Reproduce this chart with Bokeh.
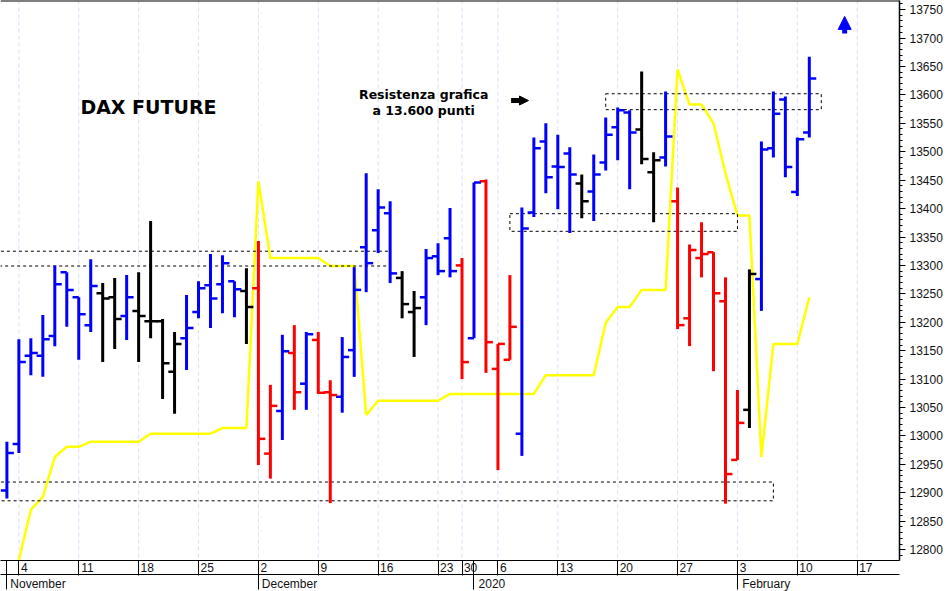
from bokeh.plotting import figure
from bokeh.embed import file_html
from bokeh.resources import INLINE
from bokeh.core.properties import value
from bokeh.models import (Range1d, LinearAxis, FixedTicker, Span, Arrow, NormalHead,
                          ColumnDataSource)

# trading-day index of each bar is simply its position in these lists
opens = [12904,12986,13141,13141,13176,13288,13244,13195,13251,13244,13211,13220,13202,13202,13113,13172,13218,13265,13267,13272,13255,
         13260,12969,13044,13146,13092,13169,13077,13069,13151,13332,13362,13392,13278,13218,13244,13316,13348,13300,13172,13448,13118,13134,
         13004,13393,13518,13474,13497,13444,13430,13481,13543,13569,13539,13464,13490,13413,13207,13313,13323,13237,12958,13046,13276,13506,13592,13429,13534]
highs = [12990,13170,13172,13213,13300,13288,13244,13311,13269,13278,13283,13288,13378,13206,13183,13248,13272,13320,13318,13272,13295,
         13343,13090,13178,13195,13183,13183,13098,13174,13297,13462,13434,13413,13290,13255,13329,13339,13401,13313,13446,13451,13162,13283,
         13402,13525,13550,13530,13508,13460,13495,13560,13578,13573,13641,13499,13606,13437,13337,13376,13323,13279,13081,13293,13518,13606,13597,13525,13667]
lows = [12890,12970,13107,13104,13158,13192,13134,13183,13130,13153,13169,13130,13172,13065,13039,13116,13207,13190,13216,13209,13162,
        12949,12925,12993,13046,13046,13074,12882,13041,13104,13253,13322,13269,13207,13139,13195,13283,13279,13100,13172,13111,12940,13134,
        12965,13385,13427,13399,13357,13383,13378,13467,13485,13434,13478,13376,13474,13188,13158,13279,13114,12881,12958,13014,13220,13490,13455,13422,13525]
closes = [12970,13130,13146,13170,13267,13257,13214,13264,13242,13206,13244,13211,13202,13128,13162,13190,13260,13242,13304,13258,13227,
          12995,13053,13149,13077,13179,13076,13072,13139,13257,13304,13402,13286,13232,13225,13313,13290,13290,13130,13446,13165,13162,13192,
          13365,13506,13455,13473,13460,13413,13460,13530,13573,13534,13487,13485,13527,13195,13327,13320,13251,12933,13023,13285,13504,13567,13473,13522,13629]
bar_colors = (["#0000ff"]*8 + ["#000000"]*2 + ["#0000ff"] + ["#000000"]*4 + ["#0000ff"]*5 + ["#000000"]
              + ["#ff0000"]*2 + ["#0000ff","#ff0000","#0000ff","#ff0000","#ff0000"] + ["#0000ff"]*5 + ["#000000"]*2 + ["#0000ff"]*3
              + ["#ff0000","#0000ff"] + ["#ff0000"]*3 + ["#0000ff"]*5 + ["#000000"] + ["#0000ff"]*4 + ["#000000"]*2 + ["#0000ff"]
              + ["#ff0000"]*6 + ["#000000"] + ["#0000ff"]*5)

line_x = list(range(1, 68))
line_y = [12782,12870,12893,12963,12981,12981,12990,12990,12990,12990,12990,13004,13004,13004,13004,13004,13004,13014,13014,13014,
          13448,13313,13313,13313,13313,13313,13299,13299,13299,13037,13062,13062,13062,13062,13062,13062,13074,13074,13074,13074,
          13074,13074,13074,13074,13107,13107,13107,13107,13107,13199,13227,13227,13257,13257,13257,13645,13583,13583,13550,13462,
          13388,13388,12963,13162,13162,13162,13244]

# dashed boxes: left, right, bottom, top
box_left = [-1, 42, 50, -1]
box_right = [32, 61, 68, 64]
box_bottom = [13299, 13360, 13574, 12886]
box_top = [13325, 13391, 13602, 12919]

week_ticks = [1, 6, 11, 16, 21, 26, 31, 36, 38, 41, 46, 51, 56, 61, 66, 71]
week_labels = ["4", "11", "18", "25", "2", "9", "16", "23", "30", "6", "13", "20", "27", "3", "10", "17"]
month_ticks = [0, 21, 39, 61]
month_labels = ["November", "December", "2020", "February"]
month_label_shift = [2.6, 2.6, 1.5, 2.4]

price_ticks = list(range(12800, 13751, 50))
price_minor = list(range(12790, 13761, 10))

p = figure(width=945, height=591, frame_width=899, frame_height=560,
           output_backend="svg", toolbar_location=None,
           x_range=Range1d(-0.534, 74.53), y_range=Range1d(12781, 13766),
           min_border_left=0, min_border_top=0, min_border_right=0, min_border_bottom=0,
           background_fill_color="white", border_fill_color="white", outline_line_color=None,
           x_axis_location=None, y_axis_location=None)

# grid
p.xgrid.visible = False
p.ygrid.visible = False
for t in week_ticks:
    p.add_layout(Span(location=t, dimension="height", line_color="#dcdcf8", line_width=1, line_dash="4 3", level="underlay"))
p.add_layout(Span(location=13766, dimension="width", line_color="black", line_width=2))

# price axis
yax = LinearAxis(ticker=FixedTicker(ticks=price_ticks, minor_ticks=price_minor))
yax.axis_line_color = "black"
yax.axis_line_width = 1.5
yax.major_tick_line_color = "black"
yax.minor_tick_line_color = "black"
yax.major_tick_in = 0
yax.major_tick_out = 6
yax.minor_tick_in = 0
yax.minor_tick_out = 3
yax.major_label_standoff = 4
yax.major_label_text_font = "Liberation Sans"
yax.major_label_text_font_size = "12px"
yax.major_label_text_color = "#111111"
p.add_layout(yax, "right")

# week row of the date axis
week_pos = [round(t + (0.46 if len(s) == 1 else 0.72), 2) for t, s in zip(week_ticks, week_labels)]
ax1 = LinearAxis(ticker=FixedTicker(ticks=week_pos, minor_ticks=week_ticks + month_ticks),
                 major_label_overrides=dict(zip(week_pos, week_labels)))
ax1.axis_line_color = "black"
ax1.major_tick_line_color = None
ax1.minor_tick_line_color = "black"
ax1.major_tick_in = 0
ax1.major_tick_out = 0
ax1.minor_tick_in = 0
ax1.minor_tick_out = 15
ax1.major_label_standoff = -13
ax1.major_label_text_font = "Liberation Sans"
ax1.major_label_text_font_size = "12px"
ax1.major_label_text_color = "#111111"
p.add_layout(ax1, "below")

# month row of the date axis
month_pos = [round(t + s, 2) for t, s in zip(month_ticks, month_label_shift)]
ax2 = LinearAxis(ticker=FixedTicker(ticks=month_pos, minor_ticks=month_ticks),
                 major_label_overrides=dict(zip(month_pos, month_labels)))
ax2.axis_line_color = "black"
ax2.major_tick_line_color = None
ax2.minor_tick_line_color = "black"
ax2.major_tick_in = 0
ax2.major_tick_out = 0
ax2.minor_tick_in = 0
ax2.minor_tick_out = 15
ax2.major_label_standoff = -13
ax2.major_label_text_font = "Liberation Sans"
ax2.major_label_text_font_size = "12px"
ax2.major_label_text_color = "#111111"
p.add_layout(ax2, "below")

# yellow line
p.line(line_x, line_y, line_color="#ffff00", line_width=2.5)

# dashed boxes
bx = ColumnDataSource(dict(left=box_left, right=box_right, bottom=box_bottom, top=box_top))
p.quad(left="left", right="right", bottom="bottom", top="top", source=bx,
       fill_color=None, line_color="black", line_width=1, line_dash="3 3")

# OHLC bars
idx = list(range(len(opens)))
src = ColumnDataSource(dict(x=idx, xo=[i - 0.52 for i in idx], xc=[i + 0.58 for i in idx],
                            o=opens, h=highs, l=lows, c=closes, col=bar_colors))
p.segment(x0="x", x1="x", y0="l", y1="h", source=src, line_color="col", line_width=3)
p.segment(x0="xo", x1="x", y0="o", y1="o", source=src, line_color="col", line_width=2.5)
p.segment(x0="x", x1="xc", y0="c", y1="c", source=src, line_color="col", line_width=2.5)

# annotations
p.text(x=[11.82], y=[13578], text=["DAX FUTURE"], text_font=value("DejaVu Sans"), text_font_style="bold",
       text_font_size="19px", text_color="black", text_align="center", text_baseline="middle")
p.text(x=[34.8, 34.8], y=[13601, 13573], text=["Resistenza grafica", "a 13.600 punti"],
       text_font=value("DejaVu Sans"), text_font_style="bold", text_font_size="12.5px",
       text_color="black", text_align="center", text_baseline="middle")
p.add_layout(Arrow(end=NormalHead(size=9, fill_color="black", line_color="black"),
                   x_start=42.1, x_end=43.55, y_start=13590, y_end=13590,
                   line_color="black", line_width=5))
p.add_layout(Arrow(end=NormalHead(size=13, fill_color="#0000ff", line_color="#0000ff"),
                   x_start=69.95, x_end=69.95, y_start=13708, y_end=13738,
                   line_color="#0000ff", line_width=5))

open("out.html", "w").write(file_html(p, INLINE))
